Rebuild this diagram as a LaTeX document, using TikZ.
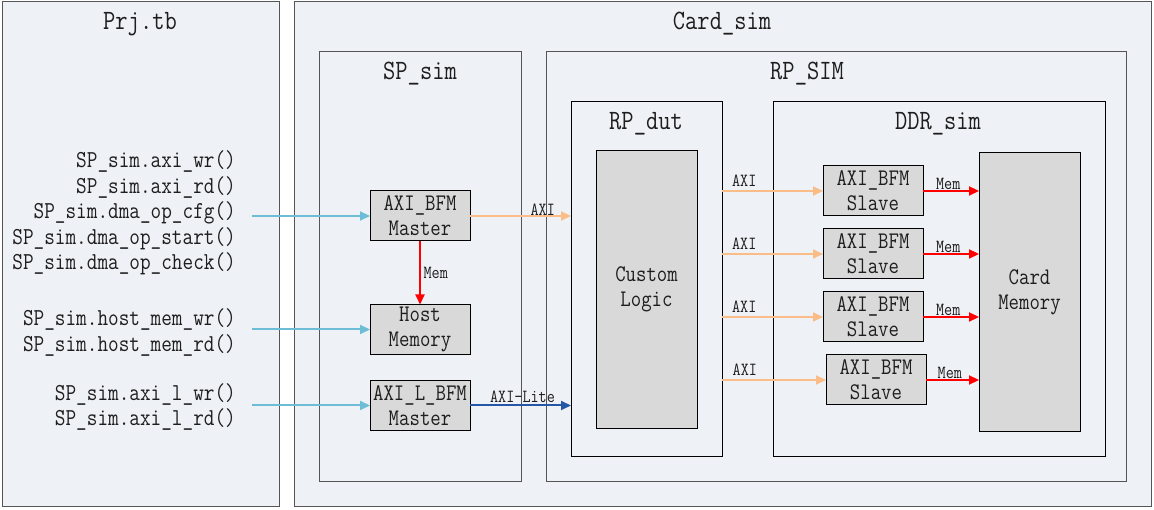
\documentclass[tikz,border=0pt]{standalone}
\usepackage{fontspec}
\setmonofont{Latin Modern Mono}[FakeStretch=0.85]
\usetikzlibrary{arrows.meta}
\definecolor{bgc}{HTML}{EEF1F6}
\definecolor{boxc}{HTML}{D9D9D9}
\definecolor{edgec}{HTML}{555555}
\definecolor{txtc}{HTML}{1E1E1E}
\definecolor{lblue}{HTML}{6CBDD5}
\definecolor{lorange}{HTML}{FBBD88}
\definecolor{dblue}{HTML}{2458A6}
\definecolor{memred}{HTML}{FF0000}
\begin{document}
\begin{tikzpicture}[x=1pt,y=-1pt,
  every node/.style={text=txtc, font=\ttfamily},
  container/.style={draw=edgec, line width=1pt, fill=bgc, anchor=north west, inner sep=0pt, outer sep=0pt},
  title/.style={font=\ttfamily\fontsize{28}{30}\selectfont},
  blk/.style={draw=black, line width=1pt, fill=boxc, inner sep=0pt, outer sep=0pt, align=center,
     minimum width=100pt, minimum height=50pt, font=\ttfamily\fontsize{23.8}{25}\selectfont},
  calls/.style={anchor=east, align=right, font=\ttfamily\fontsize{24.3}{25.5}\selectfont, inner sep=0pt},
  lbl/.style={font=\ttfamily\fontsize{18.5}{20}\selectfont, inner sep=1.5pt},
  bluearr/.style={draw=lblue, line width=2pt, -{Triangle[length=10pt,width=9pt]}},
  orarr/.style={draw=lorange, line width=2pt, -{Triangle[length=10pt,width=9pt]}},
  dbarr/.style={draw=dblue, line width=2pt, -{Triangle[length=10pt,width=9pt]}},
  redarr/.style={draw=memred, line width=2.2pt, -{Triangle[length=10pt,width=9pt]}}
]
\useasboundingbox (0,0) rectangle (1154,510);
\fill[white] (0,0) rectangle (1154,510);

% containers
\node[container, minimum width=277pt, minimum height=504pt] (prj) at (2,2) {};
\node[container, minimum width=857pt, minimum height=504pt] (card) at (294,2) {};
\node[container, minimum width=202pt, minimum height=429pt] (spsim) at (319,52) {};
\node[container, minimum width=580pt, minimum height=429pt] (rpsim) at (546,52) {};
\node[container, draw=black, minimum width=151pt, minimum height=354pt] (rpdut) at (571,102) {};
\node[container, draw=black, minimum width=332pt, minimum height=354pt] (ddr) at (773,102) {};

% titles
\node[title] (tprj) at (140,24) {Prj.tb};
\node[title] (tcard) at (722,24) {Card\_sim};
\node[title] (tsp) at (420,74) {SP\_sim};
\node[title] (trp) at (807,74) {RP\_SIM};
\node[title] (tdut) at (646,124) {RP\_dut};
\node[title] (tddr) at (938,124) {DDR\_sim};

% big gray blocks
\node[blk, minimum width=101pt, minimum height=277pt] (logic) at (646.5,289.5) {Custom\\Logic};
\node[blk, minimum width=101pt, minimum height=278pt] (cmem) at (1029.5,292) {Card\\Memory};

% SP blocks
\node[blk] (axim) at (420,216) {AXI\_BFM\\Master};
\node[blk] (hmem) at (420,329.5) {Host\\Memory};
\node[blk] (axil) at (420,405.5) {AXI\_L\_BFM\\Master};

% slaves
\node[blk] (s1) at (873,191) {AXI\_BFM\\Slave};
\node[blk] (s2) at (873,254) {AXI\_BFM\\Slave};
\node[blk] (s3) at (873,317) {AXI\_BFM\\Slave};
\node[blk] (s4) at (876,380) {AXI\_BFM\\Slave};

% call text
\node[calls] (c1) at (236,213) {SP\_sim.axi\_wr()\\SP\_sim.axi\_rd()\\SP\_sim.dma\_op\_cfg()\\SP\_sim.dma\_op\_start()\\SP\_sim.dma\_op\_check()};
\node[calls] (c2) at (236,332.5) {SP\_sim.host\_mem\_wr()\\SP\_sim.host\_mem\_rd()};
\node[calls] (c3) at (236,407) {SP\_sim.axi\_l\_wr()\\SP\_sim.axi\_l\_rd()};

% free ends of blue arrows
\coordinate (b1) at (252,216);
\coordinate (b2) at (252,329.5);
\coordinate (b3) at (252,405.5);
\draw[bluearr] (b1) -- (axim.west);
\draw[bluearr] (b2) -- (hmem.west);
\draw[bluearr] (b3) -- (axil.west);

% SP -> RP
\draw[orarr] (axim.east) -- (axim.east -| rpdut.west) node[lbl, pos=0.72, above, yshift=-2pt] {AXI};
\draw[dbarr] (axil.east) -- (axil.east -| rpdut.west) node[lbl, pos=0.52, above] {AXI-Lite};
\draw[redarr] (axim.south) -- (hmem.north) node[lbl, midway, right, xshift=1pt] {Mem};

% RP_dut -> slaves
\foreach \s in {s1,s2,s3,s4}{
  \draw[orarr] (rpdut.east |- \s.west) -- (\s.west) node[lbl, pos=0.22, above, yshift=2pt] {AXI};
  \draw[redarr] (\s.east) -- (\s.east -| cmem.west) node[lbl, pos=0.45, above, yshift=-1pt] {Mem};
}
\end{tikzpicture}
\end{document}
